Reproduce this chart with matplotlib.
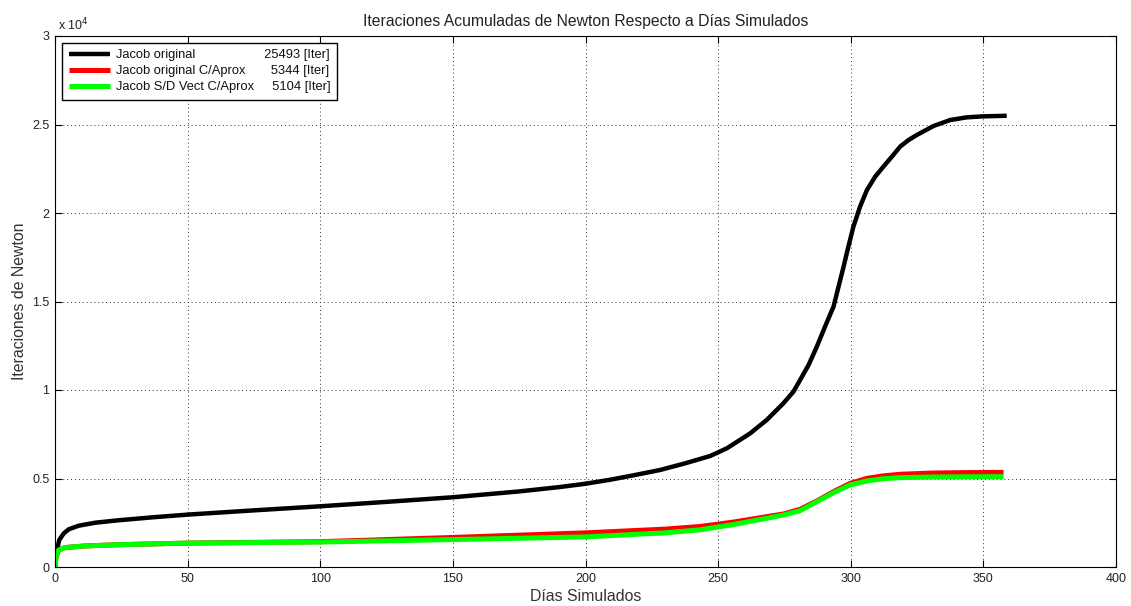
import matplotlib
matplotlib.use("Agg")
import matplotlib.pyplot as plt
from matplotlib.ticker import FixedLocator
from matplotlib.font_manager import FontProperties

plt.rcParams['font.family'] = ['Liberation Sans', 'DejaVu Sans']

# ---- data ----
days_black = [0, 0.3, 0.75, 1.6, 3.3, 5.2, 8.9, 15.2, 24, 37, 50, 75, 100, 125, 150, 175, 190.4,
              199.8, 209.3, 218.7, 228.1, 237.6, 247.0, 253.3, 262.1, 268.3, 274.6, 278.4, 280.9,
              284.1, 287.2, 290.3, 293.5, 295.4, 297.3, 299.1, 301.0, 303.5, 306.1, 309.2, 312.3,
              315.5, 318.6, 321.8, 324.9, 331.2, 337.5, 343.8, 350.0, 358.8]
iter_black = [0, 500, 960, 1525, 1900, 2130, 2333, 2503, 2640, 2810, 2960, 3200, 3430, 3680,
              3940, 4270, 4520, 4700, 4930, 5198, 5480, 5859, 6271, 6706, 7552, 8305, 9247, 9906,
              10565, 11412, 12448, 13578, 14708, 15838, 16968, 18098, 19228, 20357, 21299, 22052,
              22617, 23182, 23747, 24124, 24407, 24915, 25254, 25405, 25461, 25493]

days_approx = [0, 0.4, 1.4, 3.9, 11.4, 24, 50, 100, 150, 200, 230, 243.2, 255.8, 268.3, 274.6,
               280.9, 287.2, 293.5, 299.8, 306.1, 312.3, 318.6, 331.2, 343.8, 357.6]
iter_red = [0, 580, 960, 1100, 1190, 1260, 1350, 1430, 1670, 1930, 2140, 2290, 2540, 2844,
            2994, 3258, 3729, 4256, 4727, 5009, 5150, 5240, 5310, 5335, 5344]
iter_green = [0, 580, 960, 1100, 1190, 1260, 1350, 1410, 1550, 1700, 1930, 2100, 2400, 2750,
              2938, 3183, 3691, 4200, 4640, 4860, 4990, 5050, 5085, 5098, 5104]

series_names = ["Jacob original", "Jacob original C/Aprox", "Jacob S/D Vect C/Aprox"]
series_totals = [25493, 5344, 5104]

x_ticks = [0, 50, 100, 150, 200, 250, 300, 350, 400]
y_ticks = [0, 5000, 10000, 15000, 20000, 25000, 30000]
y_tick_labels = ["0", "0.5", "1", "1.5", "2", "2.5", "3"]

# ---- figure ----
fig = plt.figure(figsize=(11.31, 6.06), dpi=100)
ax = fig.add_axes([55/1131, 1-567/606, (1116-55)/1131, (567-36)/606])

l1, = ax.plot(days_black, iter_black, color='black', lw=3.2, solid_capstyle='butt',
              solid_joinstyle='round')
l2, = ax.plot(days_approx, iter_red, color=(1, 0, 0), lw=3.6, solid_capstyle='butt',
              solid_joinstyle='round')
l3, = ax.plot(days_approx, iter_green, color=(0, 1, 0), lw=3.6, solid_capstyle='butt',
              solid_joinstyle='round')

ax.set_xlim(0, 400)
ax.set_ylim(0, 30000)
ax.xaxis.set_major_locator(FixedLocator(x_ticks))
ax.set_xticklabels([str(t) for t in x_ticks])
ax.yaxis.set_major_locator(FixedLocator(y_ticks))
ax.set_yticklabels(y_tick_labels)
ax.tick_params(direction='in', length=5, width=0.8, labelsize=9, colors='black',
               top=True, right=True, pad=4)
for lab in ax.get_xticklabels() + ax.get_yticklabels():
    lab.set_color('#222222')
ax.grid(True, linestyle=(0, (1, 3)), color='#333333', linewidth=0.7)
for s in ax.spines.values():
    s.set_linewidth(0.8)

ax.text(0.003, 1.006, r"x 10$^4$", transform=ax.transAxes, fontsize=9, ha='left', va='bottom',
        color='#222222')
ax.set_title("Iteraciones Acumuladas de Newton Respecto a Días Simulados", fontsize=11.3,
             color='#222222', pad=7)
ax.set_xlabel("Días Simulados", fontsize=11.4, color='#333333', labelpad=3)
ax.set_ylabel("Iteraciones de Newton", fontsize=11.4, color='#333333', labelpad=4)

# legend labels: name + spaces + total, padded so totals line up on the right
leg_fs = 9.3
renderer = fig.canvas.get_renderer()
prop = FontProperties(family=['Liberation Sans', 'DejaVu Sans'], size=leg_fs)
target_px = 213.0
labels = []
for n, tot in zip(series_names, series_totals):
    best = None
    for k in range(1, 80):
        s = n + " " * k + f"{tot} [Iter]"
        w, h, d = renderer.get_text_width_height_descent(s, prop, ismath=False)
        if best is None or abs(w - target_px) < abs(best[1] - target_px):
            best = (s, w)
    labels.append(best[0])

leg = ax.legend([l1, l2, l3], labels, loc='upper left', bbox_to_anchor=(0.007, 0.987),
                prop=prop, frameon=True, fancybox=False, framealpha=1, edgecolor='black',
                handlelength=3.2, handletextpad=0.45, borderpad=0.5, labelspacing=0.3,
                borderaxespad=0)
leg.get_frame().set_linewidth(1.0)
for t in leg.get_texts():
    t.set_color('#111111')

fig.savefig("out.png", dpi=100)
